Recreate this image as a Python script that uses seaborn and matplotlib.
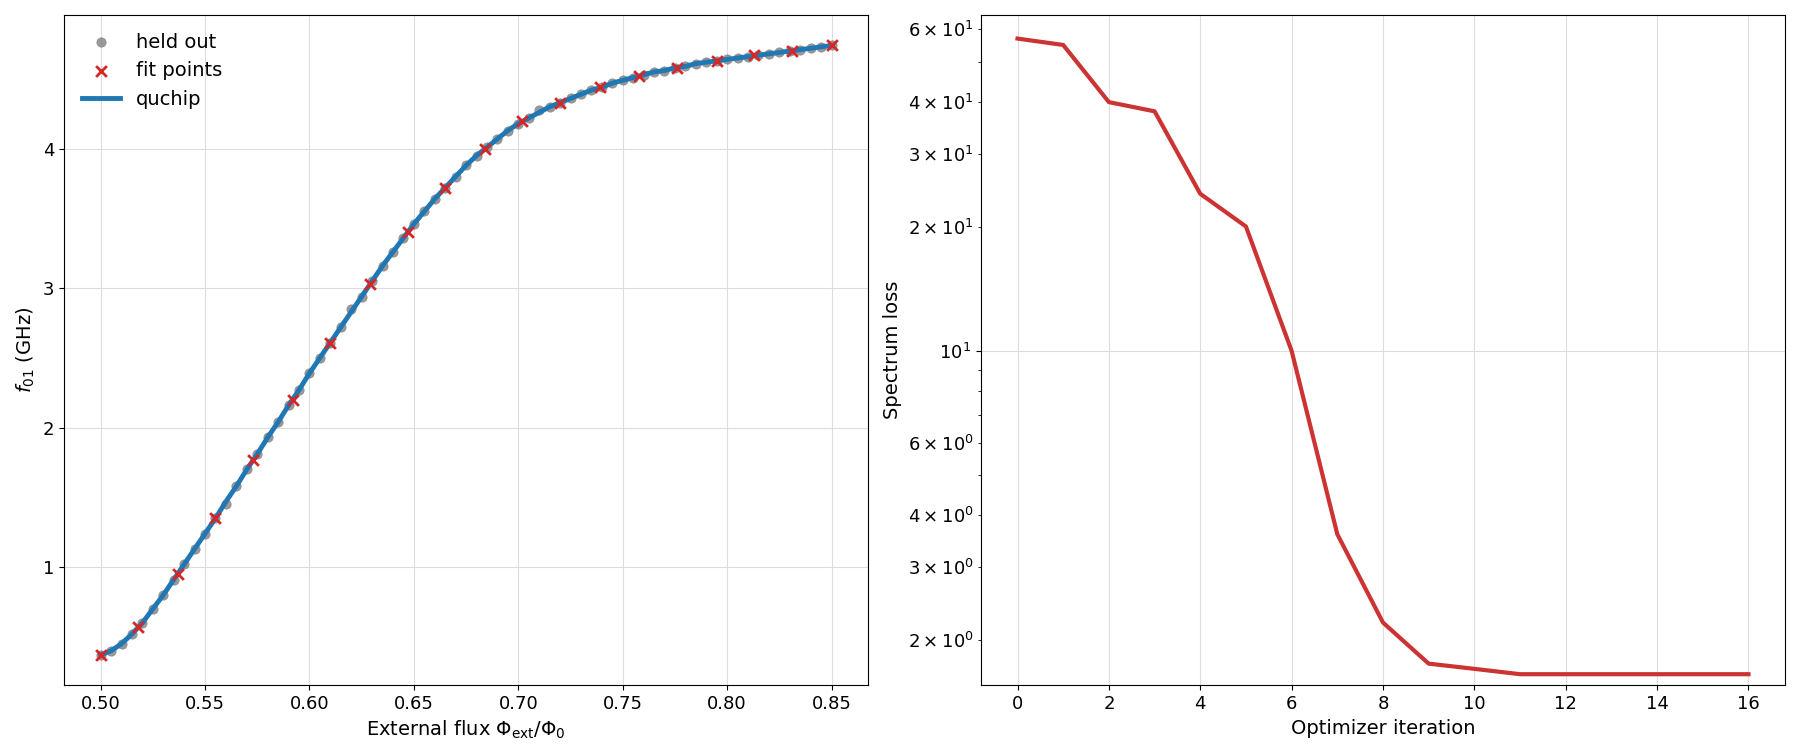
import matplotlib
matplotlib.use("Agg")
import matplotlib.pyplot as plt
from matplotlib.ticker import LogFormatterSciNotation
import seaborn as sns

# held-out measurements / model curve
flux = [0.500, 0.505, 0.510, 0.515, 0.520, 0.525, 0.530, 0.535, 0.540, 0.545,
        0.550, 0.555, 0.560, 0.565, 0.570, 0.575, 0.580, 0.585, 0.590, 0.595,
        0.600, 0.605, 0.610, 0.615, 0.620, 0.625, 0.630, 0.635, 0.640, 0.645,
        0.650, 0.655, 0.660, 0.665, 0.670, 0.675, 0.680, 0.685, 0.690, 0.695,
        0.700, 0.705, 0.710, 0.715, 0.720, 0.725, 0.730, 0.735, 0.740, 0.745,
        0.750, 0.755, 0.760, 0.765, 0.770, 0.775, 0.780, 0.785, 0.790, 0.795,
        0.800, 0.805, 0.810, 0.815, 0.820, 0.825, 0.830, 0.835, 0.840, 0.845, 0.850]
model_f01 = [0.37, 0.40, 0.45, 0.52, 0.60, 0.70, 0.80, 0.91, 1.02, 1.13,
             1.24, 1.35, 1.47, 1.58, 1.70, 1.81, 1.93, 2.04, 2.16, 2.27,
             2.39, 2.50, 2.61, 2.72, 2.83, 2.94, 3.05, 3.16, 3.26, 3.36,
             3.46, 3.55, 3.64, 3.72, 3.80, 3.88, 3.95, 4.01, 4.07, 4.13,
             4.18, 4.22, 4.26, 4.30, 4.33, 4.36, 4.39, 4.42, 4.44, 4.47,
             4.49, 4.51, 4.53, 4.55, 4.56, 4.58, 4.59, 4.61, 4.62, 4.63,
             4.64, 4.65, 4.66, 4.67, 4.68, 4.69, 4.70, 4.71, 4.72, 4.73, 4.74]
held_f01 = [0.37, 0.40, 0.45, 0.52, 0.60, 0.70, 0.80, 0.91, 1.02, 1.13,
            1.24, 1.35, 1.45, 1.58, 1.70, 1.81, 1.93, 2.04, 2.16, 2.27,
            2.39, 2.50, 2.61, 2.72, 2.85, 2.94, 3.05, 3.16, 3.26, 3.36,
            3.46, 3.55, 3.64, 3.72, 3.80, 3.88, 3.95, 4.01, 4.07, 4.13,
            4.18, 4.22, 4.28, 4.30, 4.33, 4.36, 4.39, 4.42, 4.44, 4.47,
            4.49, 4.51, 4.53, 4.55, 4.56, 4.58, 4.59, 4.61, 4.62, 4.63,
            4.64, 4.65, 4.66, 4.67, 4.68, 4.69, 4.70, 4.71, 4.72, 4.73, 4.74]

fit_flux = [0.500, 0.518, 0.537, 0.555, 0.573, 0.592, 0.610, 0.629, 0.647, 0.665,
            0.684, 0.702, 0.720, 0.739, 0.758, 0.776, 0.795, 0.813, 0.831, 0.850]
fit_f01 = [0.37, 0.57, 0.95, 1.35, 1.77, 2.20, 2.61, 3.03, 3.40, 3.72,
           4.00, 4.20, 4.33, 4.44, 4.52, 4.58, 4.63, 4.67, 4.70, 4.74]

iteration = list(range(17))
loss = [57, 55, 40, 38, 24, 20, 10, 3.6, 2.2, 1.75, 1.7, 1.65, 1.65, 1.65, 1.65, 1.65, 1.65]

plt.rcParams["axes.grid"] = True
plt.rcParams["grid.color"] = "#dddddd"
plt.rcParams["axes.axisbelow"] = True

fig, axes = plt.subplots(1, 2, figsize=(18, 7.56), dpi=100)
ax = axes[0]
sns.scatterplot(x=flux, y=held_f01, ax=ax, color="gray", alpha=0.8, s=45,
                edgecolor="gray", label="held out", zorder=2)
sns.scatterplot(x=fit_flux, y=fit_f01, ax=ax, color="tab:red", marker="x",
                s=60, linewidth=2, label="fit points", zorder=4)
sns.lineplot(x=flux, y=model_f01, ax=ax, color="tab:blue", linewidth=3.5,
             label="quchip", zorder=3)
ax.set_xlabel(r"External flux $\Phi_{\rm ext}/\Phi_0$", fontsize=14)
ax.set_ylabel(r"$f_{01}$ (GHz)", fontsize=14)
ax.legend(loc="upper left", frameon=False, fontsize=14)
ax.tick_params(labelsize=13)

ax = axes[1]
sns.lineplot(x=iteration, y=loss, ax=ax, color="#cc3333", linewidth=3)
ax.set_yscale("log")
ax.set_ylim(1.55, 65)
ax.yaxis.set_minor_formatter(LogFormatterSciNotation(labelOnlyBase=False,
                                                     minor_thresholds=(2, 0.4)))
ax.set_xticks(range(0, 17, 2))
ax.set_xlabel("Optimizer iteration", fontsize=14)
ax.set_ylabel("Spectrum loss", fontsize=14)
ax.tick_params(which="both", labelsize=13)
ax.grid(False, which="minor")

plt.tight_layout()
plt.savefig("out.png", dpi=100)
